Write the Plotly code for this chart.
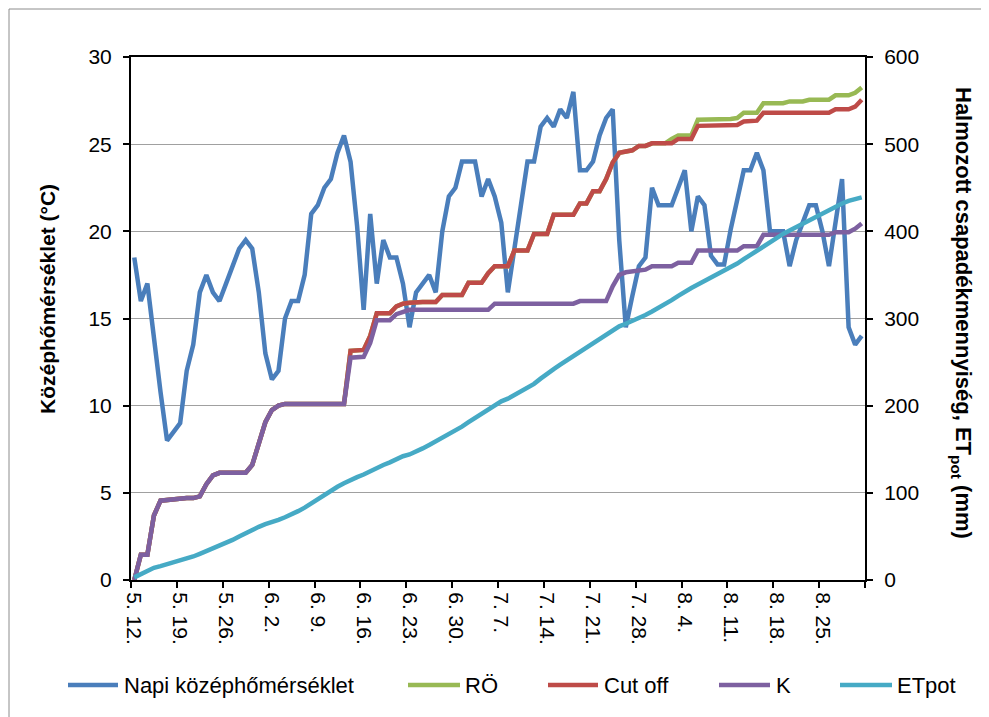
import datetime as dt
import plotly.graph_objects as go

# ---------------- data ----------------
start_day = dt.date(2000, 5, 12)
n_days = 112
day_labels = [f"{(start_day + dt.timedelta(days=i)).month}. {(start_day + dt.timedelta(days=i)).day}." for i in range(n_days)]
day_index = list(range(n_days))

tick_positions = list(range(0, 106, 7))
tick_labels = ["5. 12.", "5. 19.", "5. 26.", "6. 2.", "6. 9.", "6. 16.", "6. 23.", "6. 30.",
               "7. 7.", "7. 14.", "7. 21.", "7. 28.", "8. 4.", "8. 11.", "8. 18.", "8. 25."]

napi_kozephomerseklet = [
    18.5, 16.0, 17.0, 13.8, 10.8, 8.0, 8.5, 9.0, 12.0, 13.5,
    16.5, 17.5, 16.5, 16.0, 17.0, 18.0, 19.0, 19.5, 19.0, 16.5,
    13.0, 11.5, 12.0, 15.0, 16.0, 16.0, 17.5, 21.0, 21.5, 22.5,
    23.0, 24.5, 25.5, 24.0, 20.3, 15.5, 21.0, 17.0, 19.5, 18.5,
    18.5, 17.0, 14.5, 16.5, 17.0, 17.5, 16.5, 20.0, 22.0, 22.5,
    24.0, 24.0, 24.0, 22.0, 23.0, 22.0, 20.5, 16.5, 18.8, 21.5,
    24.0, 24.0, 26.0, 26.5, 26.0, 27.0, 26.5, 28.0, 23.5, 23.5,
    24.0, 25.5, 26.5, 27.0, 19.5, 14.5, 16.3, 18.0, 18.5, 22.5,
    21.5, 21.5, 21.5, 22.5, 23.5, 20.0, 22.0, 21.5, 18.6, 18.1,
    18.1, 20.1, 21.7, 23.5, 23.5, 24.5, 23.5, 20.0, 20.0, 20.0,
    18.0, 19.5, 20.5, 21.5, 21.5, 20.0, 18.0, 20.3, 23.0, 14.5,
    13.5, 14.0,
]

ro = [
    0, 29, 29, 74, 91, 92, 93, 94, 94, 94,
    96, 110, 120, 123, 123, 123, 123, 123, 132, 155,
    181, 195, 200, 202, 202, 202, 202, 202, 202, 202,
    202, 202, 202, 263, 264, 264, 280, 306, 306, 306,
    314, 317, 318, 319, 319, 319, 319, 327, 327, 327,
    327, 341, 341, 341, 352, 360, 360, 360, 378, 378,
    378, 397, 397, 397, 419, 419, 419, 419, 432, 432,
    446, 446, 460, 479, 490, 492, 493, 498, 498, 501,
    501, 501, 506, 510, 510, 510, 528, 528, 528, 529,
    529, 529, 530, 536, 536, 536, 547, 547, 547, 547,
    549, 549, 549, 551, 551, 551, 551, 556, 556, 556,
    559, 565,
]

cut_off = [
    0, 29, 29, 74, 91, 92, 93, 94, 94, 94,
    96, 110, 120, 123, 123, 123, 123, 123, 132, 155,
    181, 195, 200, 202, 202, 202, 202, 202, 202, 202,
    202, 202, 202, 263, 264, 264, 280, 306, 306, 306,
    314, 317, 318, 319, 319, 319, 319, 327, 327, 327,
    327, 341, 341, 341, 352, 360, 360, 360, 378, 378,
    378, 397, 397, 397, 419, 419, 419, 419, 432, 432,
    446, 446, 460, 479, 490, 492, 493, 498, 498, 501,
    501, 501, 501, 506, 506, 506, 521, 521, 522, 522,
    522, 522, 522, 526, 527, 527, 536, 536, 536, 536,
    536, 536, 536, 536, 536, 536, 536, 540, 540, 540,
    543, 551,
]

k_series = [
    0, 29, 29, 74, 91, 92, 93, 94, 94, 94,
    96, 110, 120, 123, 123, 123, 123, 123, 132, 155,
    181, 195, 200, 202, 202, 202, 202, 202, 202, 202,
    202, 202, 202, 255, 256, 256, 272, 298, 298, 298,
    305, 308, 310, 310, 310, 310, 310, 310, 310, 310,
    310, 310, 310, 310, 310, 317, 317, 317, 317, 317,
    317, 317, 317, 317, 317, 317, 317, 317, 320, 320,
    320, 320, 320, 337, 350, 353, 354, 356, 356, 360,
    360, 360, 360, 364, 364, 364, 378, 378, 378, 378,
    378, 378, 378, 383, 383, 383, 396, 396, 396, 396,
    396, 396, 396, 396, 396, 396, 396, 399, 399, 399,
    403, 409,
]

et_pot = [
    3, 7, 11, 14, 16, 18, 20, 22, 24, 27,
    30, 33, 36, 39, 42.5, 46, 50, 54, 58, 61,
    64, 66, 69, 72, 75, 79, 83, 88, 93, 98,
    103, 107, 111, 115, 118, 121, 125, 129, 132, 135,
    139, 142, 144, 147, 151, 155, 159, 163, 168, 172,
    176, 181, 186, 191, 196, 201, 205, 208, 212, 216,
    220, 225, 231, 237, 242, 247, 252, 257, 262, 267,
    272, 277, 282, 287, 291, 294, 297, 300, 304, 308,
    312, 316, 321, 326, 331, 335, 339, 343, 347, 350,
    354, 358, 363, 368, 373, 378, 383, 388, 392, 397,
    401, 405, 409, 413, 417, 421, 425, 429, 432, 435,
    437, 439,
]

series_names = ["Napi középhőmérséklet", "RÖ", "Cut off", "K", "ETpot"]
series_colors = ["#4A7EBB", "#98B954", "#BE4B48", "#7D60A0", "#46AAC5"]

# ---------------- layout geometry (reference pixels) ----------------
OFF = 8  # page body margin of the html page
W, H = 989 - OFF, 717 - OFF
PL, PR, PT, PB = 131 - OFF, 865 - OFF, 57 - OFF, 580 - OFF


def xp(px):
    return (px - OFF - PL) / (PR - PL)


def yp(py):
    return (PB - (py - OFF)) / (PB - PT)


FONT = "Liberation Sans, Arial, sans-serif"
FS = 21
LW = 4.5

fig = go.Figure()
fig.add_trace(go.Scatter(x=day_index, y=napi_kozephomerseklet, name=series_names[0],
                         mode="lines", line=dict(color=series_colors[0], width=LW),
                         customdata=day_labels, hovertemplate="%{customdata}: %{y}<extra></extra>"))
for vals, nm, col in zip([ro, cut_off, k_series, et_pot], series_names[1:], series_colors[1:]):
    fig.add_trace(go.Scatter(x=day_index, y=vals, name=nm, yaxis="y2", mode="lines",
                             line=dict(color=col, width=LW), customdata=day_labels,
                             hovertemplate="%{customdata}: %{y}<extra>" + nm + "</extra>"))

axis_common = dict(showline=True, linecolor="black", linewidth=2, ticks="outside",
                   ticklen=6, tickwidth=2, tickcolor="black", ticklabelstandoff=7,
                   tickfont=dict(family=FONT, size=FS, color="black"), zeroline=False)

fig.update_layout(
    width=W, height=H,
    margin=dict(l=PL, r=W - PR, t=PT, b=H - PB, pad=0),
    paper_bgcolor="white", plot_bgcolor="white",
    showlegend=False,
    font=dict(family=FONT, size=FS, color="black"),
    xaxis=dict(range=[-0.5, n_days - 0.5], tickmode="array", tickvals=tick_positions,
               ticktext=tick_labels, tickangle=90, ticks="", showline=True, mirror=True,
               linecolor="black", linewidth=2, showgrid=False, zeroline=False,
               tickfont=dict(family=FONT, size=FS, color="black"), ticklabelstandoff=6,
               minor=dict(tickmode="array",
                          tickvals=[v - 0.5 for v in range(0, n_days + 1, 7)],
                          ticks="outside", ticklen=6, tickwidth=2, tickcolor="black",
                          showgrid=False)),
    yaxis=dict(range=[0, 30], tickmode="linear", tick0=0, dtick=5, showgrid=True,
               gridcolor="#A0A0A0", gridwidth=1, **axis_common),
    yaxis2=dict(range=[0, 600], tickmode="linear", tick0=0, dtick=100, overlaying="y",
                side="right", showgrid=False, **axis_common),
)

annotations = [
    dict(text="<b>Középhőmérséklet (°C)</b>", x=xp(47), y=yp(299), xref="paper", yref="paper",
         textangle=-90, showarrow=False, font=dict(family=FONT, size=FS, color="black"),
         xanchor="center", yanchor="middle"),
    dict(text="<b>Halmozott csapadékmennyiség, ET<sub>pot</sub> (mm)</b>", x=xp(962), y=yp(313),
         xref="paper", yref="paper", textangle=90, showarrow=False,
         font=dict(family=FONT, size=22, color="black"), xanchor="center", yanchor="middle"),
]
shapes = [
    dict(type="rect", xref="paper", yref="paper", x0=xp(9), x1=xp(1010), y0=yp(9), y1=yp(740),
         line=dict(color="#8C8C8C", width=1), fillcolor="rgba(0,0,0,0)", layer="below"),
]

legend_line_x = [(68, 118), (408, 460), (548, 598), (719, 770), (840, 892)]
legend_text_x = [122, 463, 602, 774, 895]
LEG_Y = 685
for (x0, x1), tx, nm, col in zip(legend_line_x, legend_text_x, series_names, series_colors):
    shapes.append(dict(type="line", xref="paper", yref="paper", x0=xp(x0), x1=xp(x1),
                       y0=yp(LEG_Y), y1=yp(LEG_Y), line=dict(color=col, width=4.5)))
    annotations.append(dict(text=nm, x=xp(tx), y=yp(LEG_Y), xref="paper", yref="paper",
                            showarrow=False, xanchor="left", yanchor="middle",
                            font=dict(family=FONT, size=FS + 1, color="black")))

fig.update_layout(annotations=annotations, shapes=shapes)
fig.write_html("out.html")
